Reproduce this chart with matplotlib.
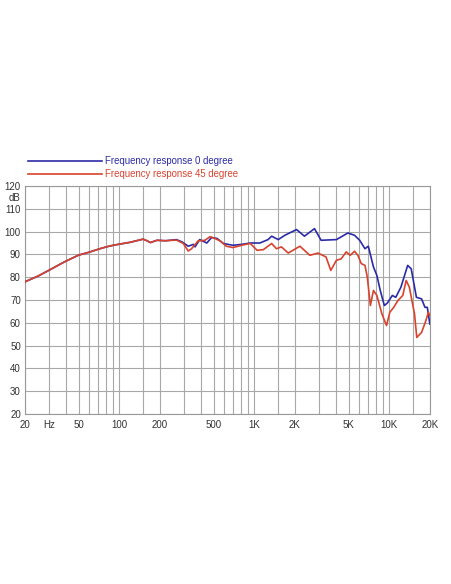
import numpy as np
import matplotlib
matplotlib.use("Agg")
import matplotlib.pyplot as plt
from matplotlib.lines import Line2D

plt.rcParams['font.family'] = ['Liberation Sans', 'DejaVu Sans']

# ---- data ----
freq_0 = [20, 25, 30, 40, 50, 60, 70, 80, 90, 100, 120, 150, 160, 170, 190, 220, 265,
          291, 324, 354, 364, 394, 445, 482, 530, 590, 695, 805, 933, 1100, 1265,
          1345, 1505, 1685, 2057, 2353, 2793, 3127, 4060, 4940, 5530, 6040, 6610,
          7000, 7640, 8100, 8580, 9200, 9660, 10540, 11180, 12200, 13700, 14550,
          15900, 17370, 18400, 19150, 20000]
db_0 = [78, 80.5, 83, 87, 89.7, 91, 92.3, 93.3, 94, 94.5, 95.3, 96.7, 96, 95.2, 96.2,
        96, 96.5, 95.5, 93.6, 94.4, 93.3, 96.5, 95, 97.4, 97, 94.8, 94, 94.4, 95,
        95, 96.5, 98, 96.5, 98.4, 100.9, 98, 101.3, 96.2, 96.5, 99.4, 98.4, 96.2,
        92.5, 93.6, 84.5, 80.8, 74.2, 67.6, 68.6, 72, 71.2, 75.6, 85.2, 83.7, 71.2,
        70.5, 66.8, 66.8, 59.5]

freq_45 = [20, 25, 30, 40, 50, 60, 70, 80, 90, 100, 120, 150, 160, 170, 190, 220, 265,
           298, 324, 343, 383, 431, 470, 510, 560, 620, 695, 805, 933, 1050, 1168,
           1345, 1460, 1590, 1785, 2180, 2580, 2965, 3400, 3690, 4060, 4410, 4800,
           5140, 5530, 5860, 6200, 6610, 6880, 7250, 7640, 8100, 8830, 9550, 10100,
           10800, 11600, 12600, 13350, 14100, 15400, 16000, 17370, 18700, 19500, 20000]
db_45 = [78, 80.5, 83, 87, 89.7, 91, 92.3, 93.3, 94, 94.5, 95.3, 96.7, 96, 95.2, 96.2,
         96, 96.3, 94.8, 91.5, 92.5, 95.9, 96.2, 97.8, 97, 95.9, 93.6, 93, 94, 94.8,
         91.8, 92.1, 94.8, 92.5, 93.3, 90.6, 93.6, 89.6, 90.6, 88.9, 83, 87.4, 88.1,
         91.1, 89.6, 91.4, 89.6, 86, 85.2, 80, 67.6, 74.2, 72, 63.9, 58.8, 64.6,
         66.8, 69.8, 72, 78.6, 75.6, 63.9, 53.6, 55.8, 61, 64.6, 63.2]

grid_freqs = ([20, 30, 40, 50, 60, 70, 80, 90, 100, 150] + list(range(200, 1001, 100))
              + [1500] + list(range(2000, 10001, 1000)) + [15000, 20000])
x_labels = {20: "20", 30: "Hz", 50: "50", 100: "100", 200: "200", 500: "500",
            1000: "1K", 2000: "2K", 5000: "5K", 10000: "10K", 20000: "20K"}
y_ticks = list(range(20, 121, 10))

blue = "#2b2ba6"
red = "#d8432e"

fig = plt.figure(figsize=(4.52, 5.84), dpi=100)
ax = fig.add_axes([0.0553, 0.291, 0.8957, 0.3905])

ax.semilogx(freq_0, db_0, color=blue, lw=1.2, zorder=3)
ax.semilogx(freq_45, db_45, color=red, lw=1.2, zorder=4)

ax.set_xlim(20, 20000)
ax.set_ylim(20, 120)
ax.xaxis.set_minor_locator(matplotlib.ticker.NullLocator())
ax.set_xticks(grid_freqs)
ax.set_xticklabels([x_labels.get(f, "") for f in grid_freqs])
ax.set_yticks(y_ticks + [115])
ax.set_yticklabels([str(v) for v in y_ticks] + ["dB"])
ax.tick_params(length=0, labelsize=7, colors="#333333", pad=4)
ax.tick_params(axis="y", pad=3)
ax.grid(True, color="#a8a8a8", lw=0.8)
for gl, v in zip(ax.yaxis.get_gridlines(), y_ticks + [115]):
    if v == 115:
        gl.set_visible(False)
for s in ax.spines.values():
    s.set_color("#999999")
    s.set_linewidth(0.8)

# legend drawn above the plot
W, H = 452, 584
for yy, col, txt in [(161, blue, "Frequency response 0 degree"),
                     (174, red, "Frequency response 45 degree")]:
    fig.add_artist(Line2D([28 / W, 102 / W], [1 - yy / H, 1 - yy / H], color=col, lw=1.2))
    fig.text(105 / W, 1 - yy / H, txt, color=col, fontsize=6.9, va="center", ha="left")

fig.savefig("out.png", dpi=100)
